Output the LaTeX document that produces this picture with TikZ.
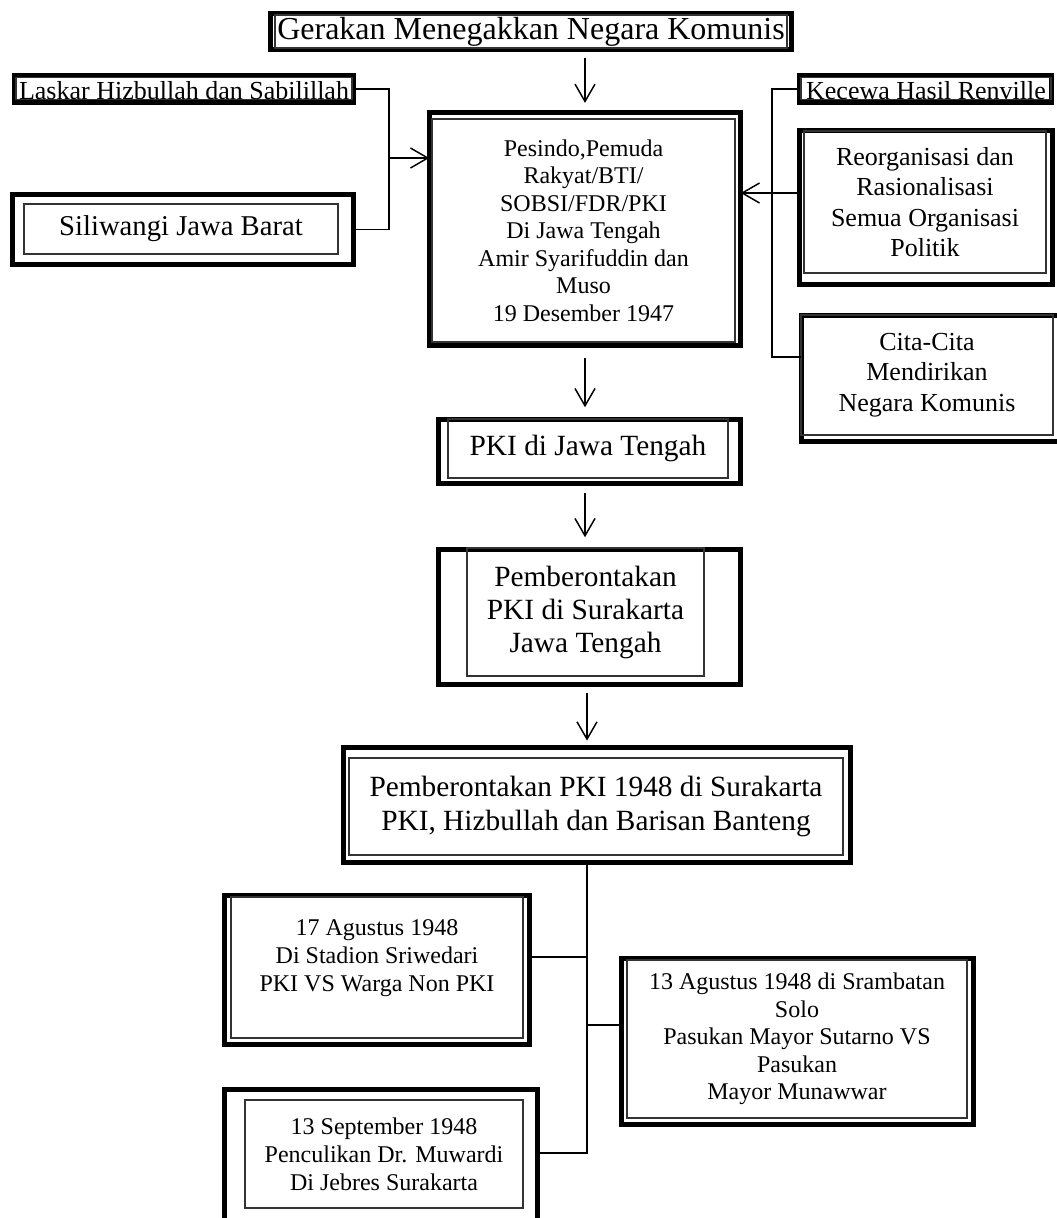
\documentclass[tikz,border=0pt]{standalone}
\usepackage{fontspec}
\setmainfont{Liberation Serif}
\usetikzlibrary{arrows.meta}

\begin{document}
\begin{tikzpicture}[
  x=.75pt,y=-.75pt,
  frame/.style={draw,line width=3.6pt,inner sep=0pt,outer sep=0pt},
  card/.style={draw=black!80,line width=.9pt,inner sep=0pt,align=center},
  wh/.style 2 args={minimum width=#1*.75pt,minimum height=#2*.75pt},
  fs/.style 2 args={font=\fontsize{#1}{#2}\selectfont},
  flat/.style={text height=16.5pt,text depth=0pt,anchor=south},
  arrow/.style={-{Straight Barb[length=13pt,width=15pt]},line width=1.1pt},
  link/.style={line width=1.1pt}
]
  \useasboundingbox (0,0) rectangle (1057,1218);
  \clip (0,0) rectangle (1057,1218);

  % top
  \node[frame,wh={521.5}{36.5}] (gerakan) at (531,31.5) {};
  \node[card,wh={512}{33},fs={24}{27}] at (531,31.5)
    {Gerakan Menegakkan Negara Komunis};

  % left side
  \node[frame,wh={339.5}{27.5}] (laskar) at (184,89) {};
  \node[card,flat,wh={336}{22},fs={19.5}{22}] at (184,100)
    {Laskar Hizbullah dan Sabilillah};
  \node[frame,wh={341.5}{70.5}] (siliwangi) at (183,229.5) {};
  \node[card,wh={314}{50},fs={21.5}{25}] at (181,229) {Siliwangi Jawa Barat};

  % centre
  \node[frame,wh={311.5}{233.5}] (pesindo) at (585,229) {};
  \node[card,wh={303}{223},fs={18}{20.6}] at (583.5,230.5)
    {Pesindo,Pemuda\\Rakyat/BTI/\\SOBSI/FDR/PKI\\Di Jawa Tengah\\
     Amir Syarifuddin dan\\Muso\\19 Desember 1947};

  % right side
  \node[frame,wh={252.5}{27.5}] (kecewa) at (925.5,89) {};
  \node[card,flat,wh={250}{22},fs={19.5}{22}] at (926,100)
    {Kecewa Hasil Renville};
  \node[frame,wh={253.5}{154.5}] (reorg) at (926,207.5) {};
  \node[card,wh={242}{142},fs={19.5}{22.7}] at (925,202)
    {Reorganisasi dan\\Rasionalisasi\\Semua Organisasi\\Politik};
  \node[frame,wh={258.5}{126.5}] (cita) at (930.5,378.5) {};
  \node[card,wh={252}{120},fs={19.5}{22.7}] at (927,375)
    {Cita-Cita\\Mendirikan\\Negara Komunis};

  % chain
  \node[frame,wh={302.5}{64.5}] (jateng) at (589.5,451.5) {};
  \node[card,wh={280}{59},fs={22}{25}] at (588,448.5) {PKI di Jawa Tengah};
  \node[frame,wh={302.5}{135.5}] (solo) at (589.5,617) {};
  \node[card,wh={237}{128},fs={22}{24.75}] at (585.5,612)
    {Pemberontakan\\PKI di Surakarta\\Jawa Tengah};
  \node[frame,wh={507.5}{115.5}] (pemberontakan) at (597,805) {};
  \node[card,wh={494}{97},fs={22}{25.5}] at (596,806.5)
    {Pemberontakan PKI 1948 di Surakarta\\PKI, Hizbullah dan Barisan Banteng};

  % events
  \node[frame,wh={305.5}{149.5}] (sriwedari) at (377,970) {};
  \node[card,wh={292}{141},fs={18}{21}] at (377,967.5)
    {17 Agustus 1948\\Di Stadion Sriwedari\\PKI VS Warga Non PKI\\[-3pt]\mbox{}};
  \node[frame,wh={352.5}{166.5}] (srambatan) at (797.5,1041.5) {};
  \node[card,wh={340}{158},fs={18}{20.6}] at (797,1039)
    {13 Agustus 1948 di Srambatan\\Solo\\Pasukan Mayor Sutarno VS\\
     Pasukan\\Mayor Munawwar};
  \node[frame,wh={313.5}{148.5}] (muwardi) at (381,1163.5) {};
  \node[card,wh={278}{108},fs={18}{21}] at (384,1154)
    {13 September 1948\\Penculikan Dr. Muwardi\\Di Jebres Surakarta};

  \coordinate (lj) at (389,158);
  \coordinate (rj) at (772,193);
  \coordinate (rb) at (772,357);
  \coordinate (t1) at (587,957);
  \coordinate (t2) at (587,1025);
  \coordinate (t3) at (587,1153);

  \draw[arrow,shorten <=6pt,shorten >=7pt] (gerakan.south -| pesindo.north) -- (pesindo.north);
  \draw[arrow,shorten <=9pt,shorten >=9pt] (pesindo.south) -- (pesindo.south |- jateng.north);
  \draw[arrow,shorten <=7pt,shorten >=9pt] (jateng.south -| pesindo.south) -- (solo.north -| pesindo.south);
  \draw[arrow,shorten <=6pt,shorten >=5pt] (solo.south -| t3) -- (pemberontakan.north -| t3);

  \draw[link] (laskar.east) -| (lj) |- (siliwangi.east);
  \draw[arrow] (lj) -- (lj -| pesindo.west);
  \draw[link] (kecewa.west) -| (rb) -- (rb -| cita.west);
  \draw[arrow] (rj -| reorg.west) -- (rj -| pesindo.east);

  \draw[link] (pemberontakan.south -| t3) -- (t3) -- (t3 -| muwardi.east);
  \draw[link] (t1) -- (t1 -| sriwedari.east);
  \draw[link] (t2) -- (t2 -| srambatan.west);
\end{tikzpicture}
\end{document}
